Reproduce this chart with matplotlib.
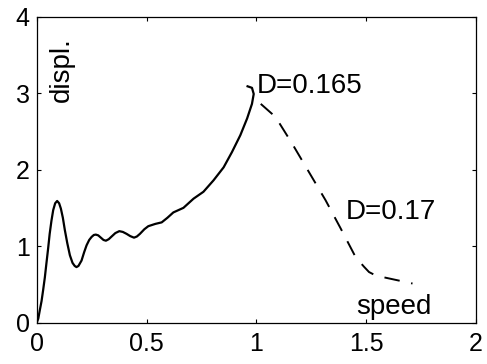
import numpy as np
from matplotlib import pyplot as plt

# solid curve, D=0.165
solid_x = [0.0, 0.007, 0.014, 0.022, 0.029, 0.037, 0.044, 0.052, 0.059, 0.067,
           0.075, 0.084, 0.093, 0.102, 0.110, 0.119, 0.128, 0.139, 0.151, 0.163,
           0.173, 0.181, 0.190, 0.204, 0.216, 0.227, 0.239, 0.250, 0.260, 0.269,
           0.280, 0.292, 0.304, 0.315, 0.328, 0.341, 0.358, 0.376, 0.392, 0.409,
           0.426, 0.443, 0.456, 0.470, 0.490, 0.508, 0.540, 0.569, 0.595, 0.622,
           0.668, 0.714, 0.759, 0.805, 0.851, 0.889, 0.927, 0.958, 0.980, 0.988,
           0.980, 0.960]
solid_y = [0.0, 0.05, 0.16, 0.28, 0.42, 0.59, 0.77, 0.97, 1.16, 1.33,
           1.47, 1.56, 1.59, 1.56, 1.49, 1.37, 1.21, 1.04, 0.88, 0.78,
           0.74, 0.725, 0.74, 0.81, 0.92, 1.01, 1.08, 1.12, 1.145, 1.15,
           1.14, 1.11, 1.08, 1.07, 1.09, 1.125, 1.17, 1.195, 1.185, 1.16,
           1.13, 1.11, 1.125, 1.16, 1.22, 1.26, 1.29, 1.31, 1.37, 1.44,
           1.50, 1.62, 1.71, 1.86, 2.03, 2.23, 2.45, 2.67, 2.86, 2.99,
           3.07, 3.09]

# dashed curve, D=0.17
dash_x = [1.020, 1.087, 1.163, 1.239, 1.315, 1.384, 1.452, 1.490, 1.513, 1.540,
          1.566, 1.711]
dash_y = [2.86, 2.69, 2.34, 1.97, 1.60, 1.23, 0.855, 0.73, 0.66, 0.62,
          0.60, 0.51]

x_ticks = [0, 0.5, 1, 1.5, 2]
x_labels = ["0", "0.5", "1", "1.5", "2"]
y_ticks = [0, 1, 2, 3, 4]

plt.rcParams["font.family"] = ["Liberation Sans", "DejaVu Sans"]

fig = plt.figure(figsize=(4.87, 3.64), dpi=100)
ax = fig.add_axes([0.0754, 0.114, 0.902, 0.840])

ax.plot(solid_x, solid_y, color="black", lw=1.6)
ax.plot(dash_x, dash_y, color="black", lw=1.4, linestyle=(0, (8, 6)))

ax.text(1.0, 3.0, "D=0.165", fontsize=20, ha="left", va="baseline")
ax.text(1.405, 1.36, "D=0.17", fontsize=20, ha="left", va="baseline")
ax.text(1.455, 0.115, "speed", fontsize=20, ha="left", va="baseline")
ax.text(0.055, 2.88, "displ.", fontsize=20, rotation=90, ha="left", va="bottom")

ax.set_xlim(0, 2)
ax.set_ylim(0, 4)
ax.set_xticks(x_ticks)
ax.set_xticklabels(x_labels)
ax.set_yticks(y_ticks)
ax.tick_params(direction="in", length=3, width=0.8, top=True, right=True,
               labelsize=18, pad=5)
ax.tick_params(axis="x", pad=7)
for sp in ax.spines.values():
    sp.set_linewidth(0.9)

fig.savefig("out.png", dpi=100)
